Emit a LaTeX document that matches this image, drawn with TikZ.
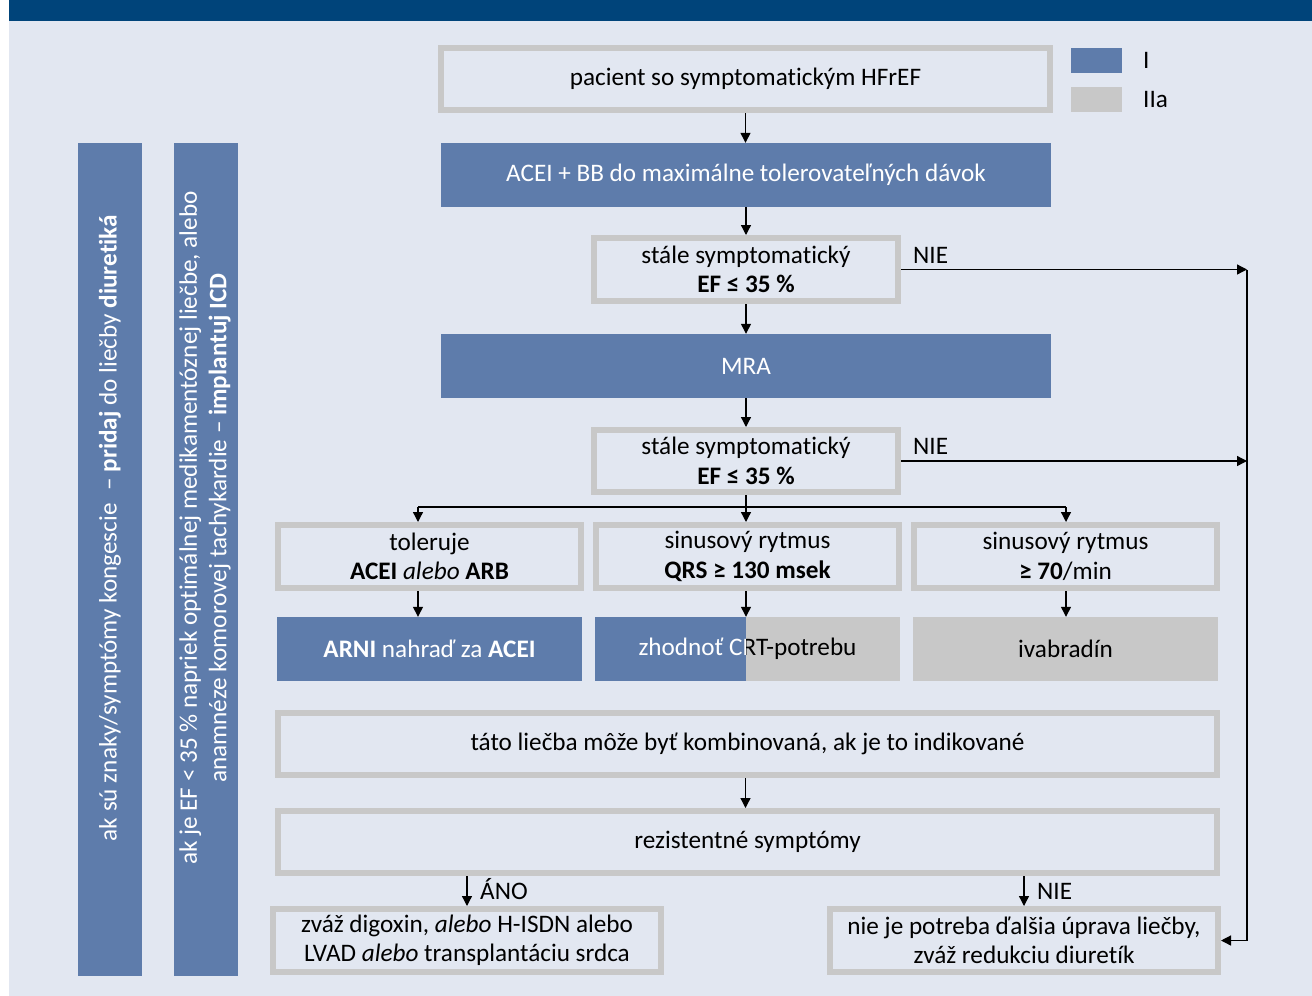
\documentclass[tikz,border=0pt]{standalone}
\usepackage{fontspec}
\setmainfont[Ligatures=NoCommon]{Carlito}
\usetikzlibrary{arrows.meta}
\definecolor{bg}{HTML}{E2E7F1}
\definecolor{dark}{HTML}{00447A}
\definecolor{bl}{HTML}{5E7CAB}
\definecolor{gr}{HTML}{C8C8C8}
\begin{document}
\begin{tikzpicture}[x=1pt,y=-1pt, font=\fontsize{25.2}{29.5}\selectfont,
 gbox/.style={draw=gr, line width=6pt, inner sep=0pt, align=center},
 bbox/.style={fill=bl, text=white, inner sep=0pt, align=center},
 grbox/.style={fill=gr, inner sep=0pt, align=center},
 arr/.style={-{Triangle[length=10pt,width=10pt]}, line width=1.3pt},
 ln/.style={line width=1.3pt},
 lab/.style={anchor=base west, inner sep=0pt},
 vtext/.style={rotate=90, text=white, align=center, inner sep=0pt}]
\useasboundingbox (0,0) rectangle (1312,996);
\fill[white] (0,0) rectangle (1312,996);
\fill[bg] (9,21) rectangle (1312,996);
\fill[dark] (9,0) rectangle (1312,21);

% legend
\node[fill=bl, minimum width=51, minimum height=25, inner sep=0pt] (legI) at (1096.5,60) {};
\node[fill=gr, minimum width=51, minimum height=25, inner sep=0pt] (legII) at (1096.5,99.5) {};
\node[anchor=west, inner sep=0pt] (legIt) at (1143,60) {I};
\node[anchor=west, inner sep=0pt] (legIIt) at (1143,99.5) {IIa};

% left bars
\node[bbox, minimum width=64, minimum height=833] (bar1) at (110,559.5) {};
\node[bbox, minimum width=64, minimum height=833] (bar2) at (206,559.5) {};
\node[vtext] (bar1t) at (110,528) {ak sú znaky/symptómy kongescie \;– \textbf{pridaj} do liečby \textbf{diuretiká}};
\node[vtext] (bar2t) at (205,528) {ak je EF < 35 \% napriek optimálnej medikamentóznej liečbe, alebo\\anamnéze komorovej tachykardie – \textbf{implantuj ICD}};

% main flow
\node[gbox, minimum width=609, minimum height=62] (top) at (745.5,79) {pacient so symptomatickým HFrEF};
\node[bbox, minimum width=610, minimum height=64] (acei) at (746,175) {ACEI + BB do maximálne tolerovateľných dávok};
\node[gbox, minimum width=304, minimum height=63] (q1) at (746,269.5) {stále symptomatický\\\textbf{EF ≤ 35 \%}};
\node[bbox, minimum width=610, minimum height=64] (mra) at (746,366) {MRA};
\node[gbox, minimum width=304, minimum height=62] (q2) at (746,461) {stále symptomatický\\\textbf{EF ≤ 35 \%}};

\node[gbox, minimum width=303, minimum height=63] (t1) at (429.5,556.5) {toleruje\\\textbf{ACEI} \textit{alebo} \textbf{ARB}};
\node[gbox, minimum width=303, minimum height=63] (t2) at (747.5,556.5) {sinusový rytmus\\\textbf{QRS ≥ 130 msek}};
\node[gbox, minimum width=303, minimum height=63] (t3) at (1065.5,556.5) {sinusový rytmus\\\textbf{≥ 70}/min};

\node[bbox, minimum width=305, minimum height=64] (r1) at (429.5,649) {\textbf{ARNI} nahraď za \textbf{ACEI}};
\node[grbox, minimum width=305, minimum height=64] (r2) at (747.5,649) {};
\fill[bl] (r2.north west) rectangle (746,681);
\begin{scope}
\clip (r2.north west) rectangle (746,681);
\node[text=white, inner sep=0pt] (r2w) at (r2.center) {zhodnoť CRT-potrebu};
\end{scope}
\begin{scope}
\clip (746,617) rectangle (r2.south east);
\node[text=black, inner sep=0pt] (r2b) at (r2.center) {zhodnoť CRT-potrebu};
\end{scope}
\node[grbox, minimum width=305, minimum height=64] (r3) at (1065.5,649) {ivabradín};

\node[gbox, minimum width=939, minimum height=62] (comb) at (747.5,744) {táto liečba môže byť kombinovaná, ak je to indikované};
\node[gbox, minimum width=939, minimum height=62] (rez) at (747.5,842) {rezistentné symptómy};

\node[gbox, minimum width=388, minimum height=63] (b1) at (467,940.5) {zváž digoxin, \textit{alebo} H-ISDN alebo\\LVAD \textit{alebo} transplantáciu srdca};
\node[gbox, minimum width=388, minimum height=63] (b2) at (1024,940.5) {nie je potreba ďalšia úprava liečby,\\zváž redukciu diuretík};

% connectors
\draw[arr] (top.south) -- (top.south |- acei.north);
\draw[arr] (acei.south) -- (acei.south |- q1.north);
\draw[arr] (q1.south) -- (q1.south |- mra.north);
\draw[arr] (mra.south) -- (mra.south |- q2.north);

\coordinate (rx) at (1247,269.5);
\draw[arr] (q1.east) -- (q1.east -| rx);
\draw[arr] (q2.east) -- (q2.east -| rx);
\draw[arr] (q1.east -| rx) |- (b2.east);
\node[lab] (nie1) at (913,263) {NIE};
\node[lab] (nie2) at (913,454) {NIE};

\coordinate (jl) at (418,507);
\coordinate (jr) at (1066,507);
\draw[arr] (q2.south) -- (q2.south |- t2.north);
\draw[ln] (jl) -- (jr);
\draw[arr] (jl) -- (jl |- t1.north);
\draw[arr] (jr) -- (jr |- t3.north);
\draw[arr] (jl |- t1.south) -- (jl |- r1.north);
\draw[arr] (q2.south |- t2.south) -- (q2.south |- r2.north);
\draw[arr] (jr |- t3.south) -- (jr |- r3.north);

\draw[arr] (top.south |- comb.south) -- (top.south |- rez.north);
\draw[arr] (b1.north |- rez.south) -- (b1.north);
\draw[arr] (b2.north |- rez.south) -- (b2.north);
\node[lab] (ano) at (480,899) {ÁNO};
\node[lab] (nie3) at (1037,899) {NIE};
\end{tikzpicture}
\end{document}
